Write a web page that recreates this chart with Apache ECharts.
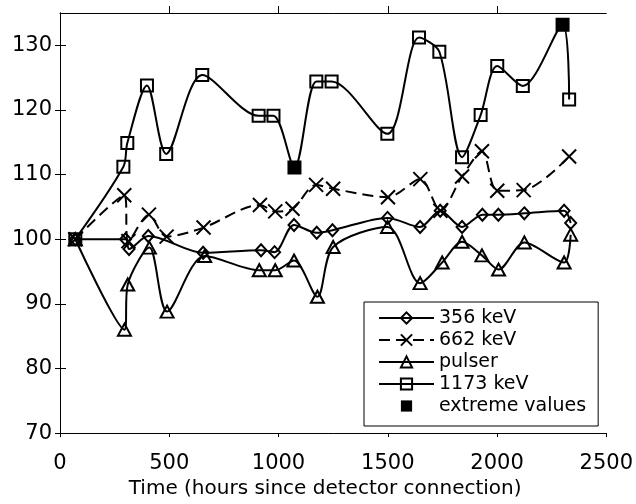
<!DOCTYPE html>
<html>
<head>
<meta charset="utf-8">
<script src="https://cdn.jsdelivr.net/npm/echarts@6/dist/echarts.min.js"></script>
<style>
html,body{margin:0;padding:0;background:#fff;}
#c{width:636px;height:504px;}
</style>
</head>
<body>
<div id="c"></div>
<script>
// ---- data ----
const xTicks = [0, 500, 1000, 1500, 2000, 2500];
const yTicks = [70, 80, 90, 100, 110, 120, 130];

const t356 = [70, 300, 316, 404, 655, 920, 982, 1071, 1175, 1247, 1499, 1648, 1740, 1840, 1933, 2006, 2125, 2307, 2337];
const v356 = [100, 100.0, 98.5, 100.5, 97.9, 98.3, 98.0, 102.2, 101.0, 101.4, 103.3, 101.9, 104.4, 101.9, 103.8, 103.8, 104.0, 104.4, 102.5];

const t662 = [70, 294, 313, 407, 488, 657, 915, 985, 1064, 1172, 1250, 1501, 1649, 1741, 1840, 1931, 2001, 2122, 2330];
const v662 = [100, 106.8, 99.7, 103.8, 100.4, 101.8, 105.3, 104.3, 104.7, 108.4, 107.8, 106.5, 109.3, 104.4, 109.7, 113.6, 107.5, 107.6, 112.8];

const tPulser = [70, 295, 310, 409, 490, 662, 912, 985, 1071, 1178, 1250, 1499, 1648, 1749, 1840, 1931, 2007, 2125, 2307, 2337];
const vPulser = [100, 86.0, 93.0, 98.7, 88.8, 97.4, 95.2, 95.2, 96.7, 91.1, 98.8, 101.9, 93.2, 96.4, 99.6, 97.5, 95.3, 99.5, 96.4, 100.7];

const t1173 = [70, 290, 308, 398, 486, 651, 909, 977, 1073, 1173, 1243, 1498, 1643, 1736, 1840, 1925, 2001, 2118, 2300, 2330];
const v1173 = [100, 111.2, 114.9, 123.8, 113.2, 125.4, 119.1, 119.1, 111.1, 124.4, 124.4, 116.3, 131.2, 129.0, 112.7, 119.2, 126.8, 123.7, 133.2, 121.6];

const tExtreme = [1073, 2300];
const vExtreme = [111.1, 133.2];

const names = ['356 keV', '662 keV', 'pulser', '1173 keV', 'extreme values'];
const xTitle = 'Time (hours since detector connection)';

// ---- chart ----
const pairs = (t, v) => t.map((x, i) => [x, v[i]]);
const FONT = 'DejaVu Sans';
const black = '#000';
const xSymbol = 'path://M0,0L10,10M10,0L0,10';
const plain = v => String(v);

const chart = echarts.init(document.getElementById('c'), null, {renderer: 'canvas'});

const lineBase = (name, data, symbol, size, dash) => ({
  name, type: 'line', data,
  smooth: 0.3,
  symbol, symbolSize: size,
  showAllSymbol: true,
  lineStyle: {color: black, width: 2, type: dash || 'solid'},
  itemStyle: {color: 'rgba(0,0,0,0)', borderColor: black, borderWidth: 2},
  emphasis: {disabled: true},
  animation: false
});

chart.setOption({
  animation: false,
  textStyle: {fontFamily: FONT, color: black},
  grid: {left: 60, right: 27, top: 13, bottom: 66, containLabel: false},
  xAxis: [{
    type: 'value', position: 'bottom', min: 0, max: 2500, interval: 500,
    name: xTitle, nameLocation: 'middle', nameGap: 40,
    nameTextStyle: {fontFamily: FONT, fontSize: 20, color: black, padding: [0, 16, 0, 0]},
    axisLine: {show: true, lineStyle: {color: black, width: 1}},
    axisTick: {show: true, inside: false, length: 4, lineStyle: {color: black}, customValues: xTicks},
    axisLabel: {fontFamily: FONT, fontSize: 21, color: black, margin: 20, customValues: xTicks, formatter: plain},
    splitLine: {show: false}
  }, {
    type: 'value', position: 'top', min: 0, max: 2500, interval: 500,
    axisLine: {show: true, lineStyle: {color: black, width: 1}},
    axisTick: {show: true, inside: false, length: 7, lineStyle: {color: black}, customValues: xTicks.slice(1, -1)},
    axisLabel: {show: false},
    splitLine: {show: false}
  }],
  yAxis: [{
    type: 'value', position: 'left', min: 70, max: 135, interval: 10,
    axisLine: {show: true, lineStyle: {color: black, width: 1}},
    axisTick: {show: true, inside: false, length: 5, lineStyle: {color: black}, customValues: yTicks},
    axisLabel: {fontFamily: FONT, fontSize: 21, color: black, margin: 8, customValues: yTicks, formatter: plain},
    splitLine: {show: false}
  }, {
    type: 'value', position: 'right', min: 70, max: 135, interval: 10,
    axisLine: {show: true, lineStyle: {color: black, width: 1}},
    axisTick: {show: true, inside: false, length: 6, lineStyle: {color: black}, customValues: yTicks},
    axisLabel: {show: false},
    splitLine: {show: false}
  }],
  legend: {
    orient: 'vertical', left: 364, top: 302,
    data: names,
    itemWidth: 55, itemHeight: 14, itemGap: 2,
    padding: [6, 12, 10, 14],
    backgroundColor: '#fff', borderColor: black, borderWidth: 1, borderRadius: 0,
    textStyle: {fontFamily: FONT, fontSize: 19, color: black, lineHeight: 20},
    selectedMode: false
  },
  series: [
    lineBase(names[0], pairs(t356, v356), 'diamond', [11, 12]),
    lineBase(names[1], pairs(t662, v662), xSymbol, 14, [11, 6]),
    lineBase(names[2], pairs(tPulser, vPulser), 'triangle', [13, 12]),
    lineBase(names[3], pairs(t1173, v1173), 'rect', 12),
    {
      name: names[4], type: 'line', data: pairs(tExtreme, vExtreme),
      symbol: 'rect', symbolSize: 12, showAllSymbol: true,
      lineStyle: {width: 0, opacity: 0},
      itemStyle: {color: black, borderColor: black, borderWidth: 0},
      emphasis: {disabled: true}, z: 5
    }
  ]
});
</script>
</body>
</html>
